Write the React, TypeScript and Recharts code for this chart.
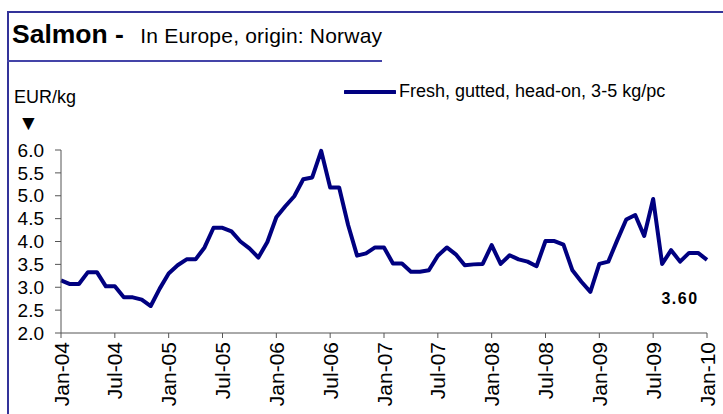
import React from 'react';
import { LineChart, Line, XAxis, YAxis, Legend } from 'recharts';

const prices = [
  3.15, 3.07, 3.07, 3.33, 3.33, 3.02, 3.02, 2.78, 2.78, 2.73, 2.59, 2.97,
  3.3, 3.48, 3.61, 3.61, 3.87, 4.3, 4.3, 4.22, 4.0, 3.85, 3.65, 3.99,
  4.53, 4.77, 4.99, 5.36, 5.4, 5.98, 5.18, 5.18, 4.36, 3.69, 3.74, 3.87,
  3.87, 3.52, 3.52, 3.34, 3.34, 3.37, 3.69, 3.87, 3.72, 3.48, 3.5, 3.51,
  3.92, 3.51, 3.7, 3.61, 3.56, 3.46, 4.01, 4.01, 3.93, 3.37, 3.12, 2.9,
  3.51, 3.56, 4.03, 4.48, 4.58, 4.12, 4.93, 3.51, 3.81, 3.56, 3.75, 3.75,
  3.6,
];
const xTickMonths = [0, 6, 12, 18, 24, 30, 36, 42, 48, 54, 60, 66, 72];
const xTickLabels = [
  'Jan-04', 'Jul-04', 'Jan-05', 'Jul-05', 'Jan-06', 'Jul-06', 'Jan-07',
  'Jul-07', 'Jan-08', 'Jul-08', 'Jan-09', 'Jul-09', 'Jan-10',
];
const yTicks = [2, 2.5, 3, 3.5, 4, 4.5, 5, 5.5, 6];
const seriesName = 'Fresh, gutted, head-on, 3-5 kg/pc';
const titleBold = 'Salmon - ';
const titleRest = 'In Europe, origin: Norway';
const unitLabel = 'EUR/kg';
const lastLabel = '3.60';

const data = prices.map((price, m) => ({ m, price }));

const FONT = '"Liberation Sans", Arial, Helvetica, sans-serif';
const FRAME = '#333399';
const LINE = '#000080';

function XTick(props: any) {
  const { x, y, payload } = props;
  const idx = xTickMonths.indexOf(payload.value);
  return (
    <text
      x={x}
      y={y}
      transform={`rotate(-90 ${x} ${y})`}
      textAnchor="end"
      dy="0.36em"
      fontSize={21}
      fill="#000"
      fontFamily={FONT}
    >
      {xTickLabels[idx]}
    </text>
  );
}

function LastLabel(props: any) {
  const { x, y, index } = props;
  if (index !== prices.length - 1) return null;
  return (
    <text
      x={x - 27}
      y={y + 39}
      textAnchor="middle"
      dominantBaseline="central"
      fontSize={16}
      fontWeight="bold"
      letterSpacing={1.5}
      fill="#000"
      fontFamily={FONT}
    >
      {lastLabel}
    </text>
  );
}

function LegendContent() {
  return (
    <div style={{ display: 'flex', alignItems: 'center', fontFamily: FONT, fontSize: 18, color: '#000', whiteSpace: 'nowrap' }}>
      <svg width={52} height={6} style={{ display: 'block' }}>
        <line x1={1} y1={3} x2={51} y2={3} stroke={LINE} strokeWidth={4} strokeLinecap="round" />
      </svg>
      <span style={{ marginLeft: 3 }}>{seriesName}</span>
    </div>
  );
}

export default function App() {
  return (
    <div style={{ position: 'absolute', left: 0, top: 0, width: 723, height: 414, background: '#fff', overflow: 'hidden', fontFamily: FONT }}>
      <div style={{ position: 'absolute', left: 7, top: 11, width: 716, height: 2, background: FRAME }} />
      <div style={{ position: 'absolute', left: 7, top: 11, width: 2, height: 403, background: FRAME }} />
      <div style={{ position: 'absolute', left: 7, top: 60, width: 375, height: 2, background: '#4444a8' }} />
      <div style={{ position: 'absolute', left: 12, top: 19, whiteSpace: 'nowrap', color: '#000' }}>
        <span style={{ fontWeight: 'bold', fontSize: 26.5 }}>{titleBold}</span>
        <span style={{ fontSize: 21, marginLeft: 9, letterSpacing: 0.2 }}>{titleRest}</span>
      </div>
      <div style={{ position: 'absolute', left: 14, top: 87, fontSize: 18, color: '#000' }}>{unitLabel}</div>
      <div style={{ position: 'absolute', left: 18, top: 112, fontSize: 21, color: '#000', lineHeight: '22px' }}>▼</div>
      <LineChart width={723} height={414} data={data} margin={{ top: 150, right: 16, bottom: 0, left: 0 }}>
        <XAxis
          dataKey="m"
          type="number"
          domain={[0, 72]}
          ticks={xTickMonths}
          interval={0}
          height={81}
          tickSize={5}
          tickMargin={4}
          tick={<XTick />}
          stroke="#555"
          tickLine={{ stroke: '#555' }}
        />
        <YAxis
          domain={[2, 6]}
          ticks={yTicks}
          interval={0}
          width={61}
          tickSize={6}
          tickMargin={11}
          stroke="#555"
          tickFormatter={(v: number) => v.toFixed(1)}
          tick={{ fill: '#000', fontSize: 19, fontFamily: FONT }}
        />
        <Legend
          layout="horizontal"
          verticalAlign="middle"
          align="center"
          content={<LegendContent />}
          wrapperStyle={{ position: 'absolute', top: 81, left: 344, width: 'auto', height: 'auto' }}
        />
        <Line
          dataKey="price"
          name={seriesName}
          type="linear"
          stroke={LINE}
          strokeWidth={4}
          strokeLinejoin="round"
          dot={false}
          isAnimationActive={false}
          label={<LastLabel />}
        />
      </LineChart>
    </div>
  );
}
